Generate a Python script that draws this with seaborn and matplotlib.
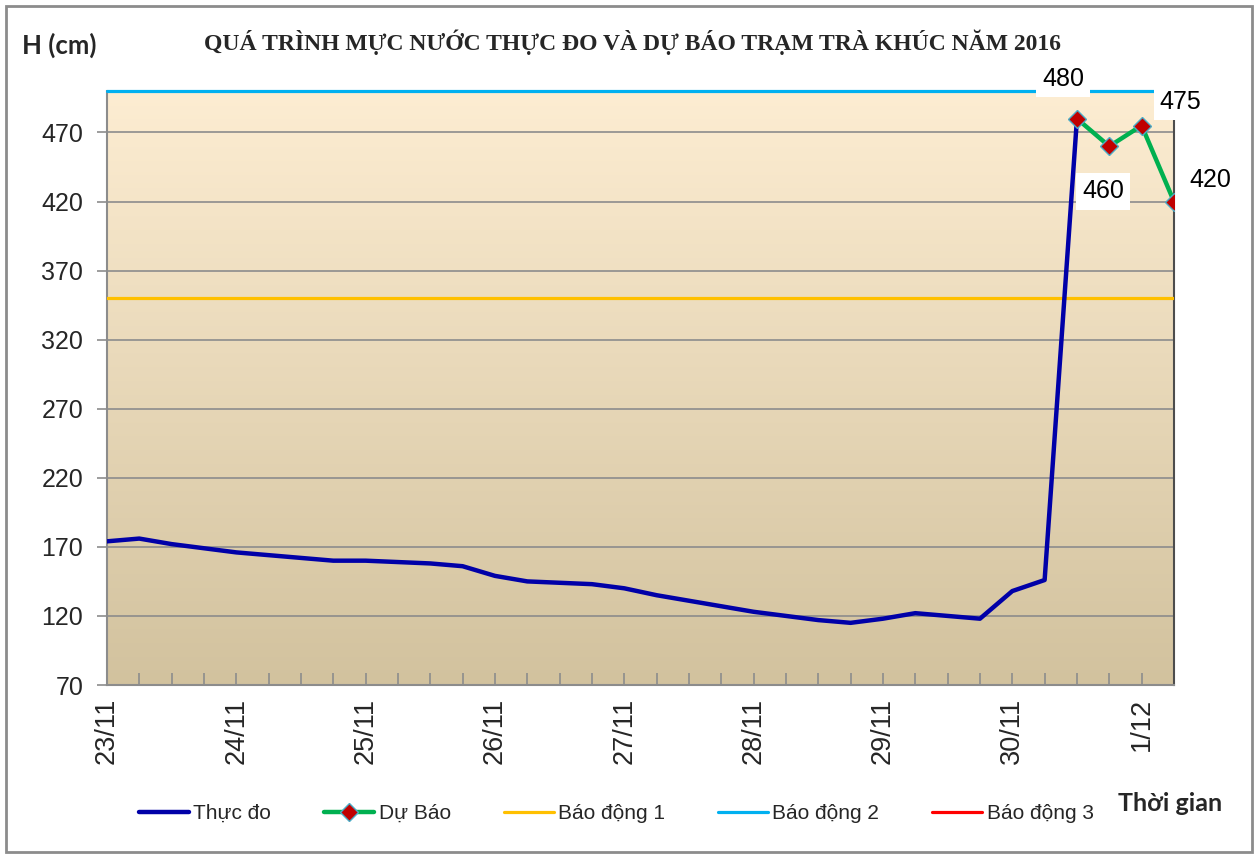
import numpy as np
import pandas as pd
import matplotlib
matplotlib.use("Agg")
import matplotlib.pyplot as plt
import matplotlib.patches as mpatches
from matplotlib.colors import LinearSegmentedColormap
import seaborn as sns

# Muc nuoc thuc do (cm), moi 6 gio tu 23/11
thuc_do = [174, 176, 172, 169, 166, 164, 162, 160, 160, 159, 158, 156, 149, 145,
           144, 143, 140, 135, 131, 127, 123, 120, 117, 115, 118, 122, 120, 118,
           138, 146, 480]
# Du bao
du_bao = [480, 460, 475, 420]
du_bao_start = 30
# Bao dong 1, 2, 3
bao_dong = [350, 500, 650]
bao_dong_names = ["Báo động 1", "Báo động 2", "Báo động 3"]
bao_dong_colors = ["#FFC000", "#00B0F0", "#FF0000"]
day_labels = ["23/11", "24/11", "25/11", "26/11", "27/11", "28/11", "29/11", "30/11", "1/12"]
y_ticks = [70, 120, 170, 220, 270, 320, 370, 420, 470]

n_points = du_bao_start + len(du_bao)
df_obs = pd.DataFrame({"t": range(len(thuc_do)), "h": thuc_do})
df_fc = pd.DataFrame({"t": range(du_bao_start, n_points), "h": du_bao})

sns.set_theme(style="white")
plt.rcParams["font.family"] = ["Liberation Sans", "DejaVu Sans"]

fig = plt.figure(figsize=(12.58, 8.57), dpi=100)
ax = fig.add_axes([0.085, 0.2007, 0.8482, 0.6931])

# background gradient
cmap = LinearSegmentedColormap.from_list("bg", ["#FDEDD2", "#D2C29E"])
grad = np.linspace(0, 1, 256).reshape(-1, 1)
ax.imshow(grad, extent=[0, n_points - 1, 70, 500], aspect="auto", cmap=cmap,
          origin="upper", zorder=0)

for v in y_ticks[1:]:
    ax.axhline(v, color="#8C8C8C", lw=1.2, zorder=1)

sns.lineplot(data=df_obs, x="t", y="h", ax=ax, color="#0000A8", lw=3.2,
             label="Thực đo", zorder=4)
sns.lineplot(data=df_fc, x="t", y="h", ax=ax, color="#00B050", lw=3.2,
             marker="D", markersize=9, markerfacecolor="#C00000",
             markeredgecolor="#4BACC6", markeredgewidth=1.0,
             label="Dự Báo", zorder=5)
for v, name, c in zip(bao_dong, bao_dong_names, bao_dong_colors):
    ax.axhline(v, color=c, lw=2.3, label=name, zorder=3, clip_on=(v != 500))

# data labels for forecast
offsets = [(-14, 40), (-6, -45), (39, 24), (36, 22)]
for t, h, off in zip(df_fc["t"], df_fc["h"], offsets):
    ax.annotate(str(h), (t, h), xytext=off, textcoords="offset pixels",
                ha="center", va="center", fontsize=18, color="black",
                bbox=dict(boxstyle="square,pad=0.25", fc="white", ec="none"),
                zorder=6, annotation_clip=False)

ax.set_xlim(0, n_points - 1)
ax.set_ylim(70, 500)
ax.set_yticks(y_ticks)
ax.set_yticklabels([str(v) for v in y_ticks], fontsize=18)
ax.set_xticks(range(n_points))
xl = []
for i in range(n_points):
    xl.append(day_labels[i // 4] if i % 4 == 0 else "")
ax.set_xticklabels(xl, rotation=90, fontsize=19.5)
ax.tick_params(axis="x", direction="in", length=9, color="#8C8C8C", width=1.2,
               pad=9, bottom=True)
ax.tick_params(axis="y", direction="out", length=7, color="#8C8C8C", width=1.2,
               pad=10, left=True)
ax.set_xlabel("")
ax.set_ylabel("")
ax.grid(False)

ax.spines["top"].set_visible(False)
ax.spines["right"].set_color("#4D4D4D")
ax.spines["right"].set_linewidth(1.5)
ax.spines["left"].set_color("#8C8C8C")
ax.spines["left"].set_linewidth(1.5)
ax.spines["bottom"].set_color("#8C8C8C")
ax.spines["bottom"].set_linewidth(1.5)

ax.get_legend().remove()
handles, labels = ax.get_legend_handles_labels()
fig.legend(handles, labels, loc="center", bbox_to_anchor=(0.49, 0.051), ncol=5,
           frameon=False, fontsize=15, handlelength=2.4, handletextpad=0.2,
           columnspacing=2.55)

fig.text(0.5025, 0.951, "QUÁ TRÌNH MỰC NƯỚC THỰC ĐO VÀ DỰ BÁO TRẠM TRÀ KHÚC NĂM 2016",
         ha="center", va="center", fontsize=17, fontweight="bold",
         family=["Liberation Serif", "DejaVu Serif"])
fig.text(0.047, 0.947, "H (cm)", ha="center", va="center", fontsize=18.5,
         fontweight="bold", family=["Lato", "DejaVu Sans"])
fig.text(0.93, 0.063, "Thời gian", ha="center", va="center", fontsize=18,
         fontweight="bold", family=["Lato", "DejaVu Sans"])

# outer border
fig.patches.append(mpatches.Rectangle((0.005, 0.006), 0.99, 0.987, transform=fig.transFigure,
                                      fill=False, ec="#8C8C8C", lw=2.0))

fig.savefig("out.png", dpi=100)
